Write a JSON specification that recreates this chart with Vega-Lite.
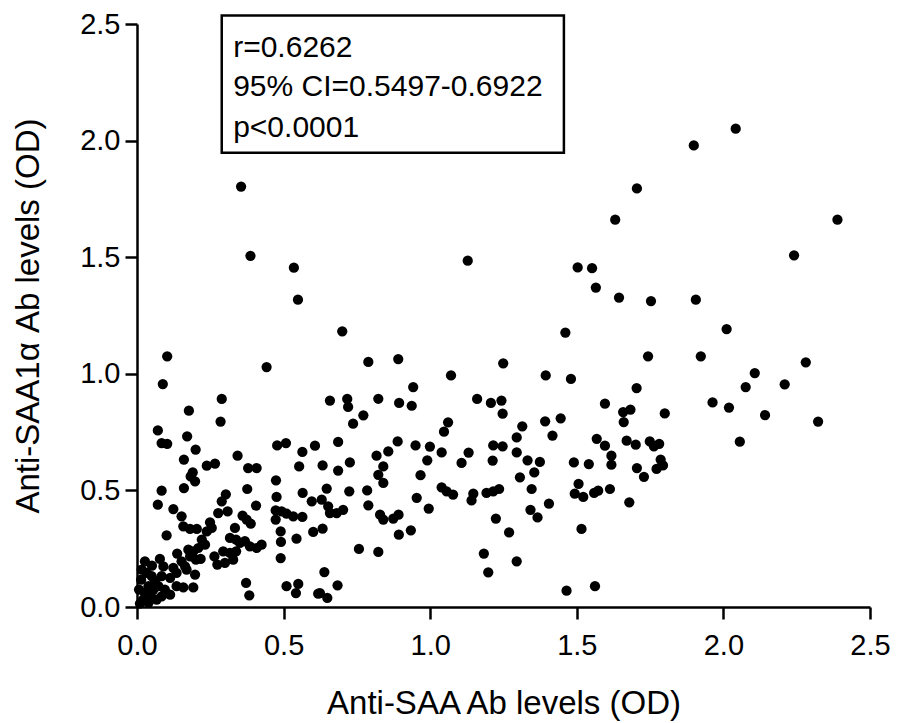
{
  "$schema": "https://vega.github.io/schema/vega-lite/v6.json",
  "autosize": {"type": "none"},
  "padding": {"left": 137, "top": 24, "right": 27, "bottom": 116},
  "width": 733,
  "height": 583,
  "background": "white",
  "config": {
    "view": {"stroke": null},
    "font": "Liberation Sans",
    "axis": {
      "grid": false,
      "domainColor": "black",
      "domainWidth": 2.5,
      "tickColor": "black",
      "tickWidth": 2.5,
      "tickSize": 12,
      "labelColor": "black",
      "labelFont": "Liberation Sans",
      "labelFontSize": 29,
      "titleFont": "Liberation Sans",
      "titleFontSize": 33,
      "titleFontWeight": "normal",
      "titleColor": "black"
    }
  },
  "datasets": {
    "points": [
      {"x":0.355,"y":1.803},{"x":1.705,"y":1.795},{"x":1.631,"y":1.661},{"x":0.387,"y":1.506},{"x":0.535,"y":1.455},
      {"x":1.128,"y":1.485},{"x":1.503,"y":1.456},{"x":1.552,"y":1.453},{"x":1.565,"y":1.370},{"x":0.549,"y":1.318},
      {"x":1.644,"y":1.327},{"x":1.753,"y":1.312},{"x":1.906,"y":1.318},{"x":0.700,"y":1.182},{"x":1.461,"y":1.177},
      {"x":1.899,"y":1.979},{"x":2.042,"y":2.051},{"x":2.389,"y":1.661},{"x":2.241,"y":1.508},{"x":2.011,"y":1.192},
      {"x":2.281,"y":1.049},{"x":2.107,"y":1.003},{"x":2.076,"y":0.943},{"x":2.209,"y":0.955},{"x":1.963,"y":0.877},
      {"x":2.019,"y":0.855},{"x":2.142,"y":0.823},{"x":2.323,"y":0.795},{"x":2.056,"y":0.709},{"x":1.923,"y":1.075},
      {"x":1.743,"y":1.075},{"x":1.394,"y":0.993},{"x":1.480,"y":0.978},{"x":1.704,"y":0.939},{"x":1.596,"y":0.872},
      {"x":1.658,"y":0.836},{"x":1.683,"y":0.846},{"x":1.660,"y":0.793},{"x":1.800,"y":0.830},{"x":1.314,"y":0.775},
      {"x":1.392,"y":0.796},{"x":1.445,"y":0.809},{"x":1.417,"y":0.735},{"x":1.568,"y":0.721},{"x":1.596,"y":0.692},
      {"x":1.670,"y":0.713},{"x":1.701,"y":0.696},{"x":1.749,"y":0.710},{"x":1.763,"y":0.689},{"x":1.781,"y":0.700},
      {"x":1.332,"y":0.629},{"x":1.374,"y":0.622},{"x":1.355,"y":0.577},{"x":1.490,"y":0.620},{"x":1.541,"y":0.613},
      {"x":1.618,"y":0.649},{"x":1.618,"y":0.610},{"x":1.705,"y":0.596},{"x":1.729,"y":0.558},{"x":1.786,"y":0.632},
      {"x":1.772,"y":0.592},{"x":1.794,"y":0.607},{"x":1.306,"y":0.556},{"x":1.346,"y":0.506},{"x":1.506,"y":0.528},
      {"x":1.493,"y":0.486},{"x":1.522,"y":0.472},{"x":1.559,"y":0.489},{"x":1.573,"y":0.499},{"x":1.613,"y":0.506},
      {"x":1.342,"y":0.417},{"x":1.366,"y":0.384},{"x":1.405,"y":0.443},{"x":1.679,"y":0.449},{"x":1.516,"y":0.335},
      {"x":1.465,"y":0.070},{"x":1.562,"y":0.089},
      {"x":0.789,"y":1.051},{"x":0.891,"y":1.063},{"x":1.071,"y":0.993},{"x":1.249,"y":1.045},{"x":0.942,"y":0.943},
      {"x":0.658,"y":0.885},{"x":0.717,"y":0.892},{"x":0.720,"y":0.858},{"x":0.823,"y":0.893},{"x":0.894,"y":0.875},
      {"x":0.937,"y":0.863},{"x":0.772,"y":0.822},{"x":0.737,"y":0.786},{"x":1.160,"y":0.892},{"x":1.207,"y":0.875},
      {"x":1.243,"y":0.885},{"x":1.247,"y":0.829},{"x":1.061,"y":0.792},{"x":1.047,"y":0.752},{"x":0.889,"y":0.710},
      {"x":0.686,"y":0.708},{"x":0.950,"y":0.693},{"x":0.999,"y":0.688},{"x":0.857,"y":0.667},{"x":0.817,"y":0.649},
      {"x":1.039,"y":0.663},{"x":1.131,"y":0.662},{"x":1.107,"y":0.618},{"x":1.215,"y":0.693},{"x":1.247,"y":0.689},
      {"x":1.213,"y":0.628},{"x":1.295,"y":0.727},{"x":1.295,"y":0.663},{"x":0.633,"y":0.607},{"x":0.726,"y":0.620},
      {"x":0.686,"y":0.585},{"x":0.990,"y":0.629},{"x":0.840,"y":0.603},{"x":0.823,"y":0.567},{"x":0.840,"y":0.532},
      {"x":0.967,"y":0.565},{"x":0.647,"y":0.508},{"x":0.724,"y":0.496},{"x":0.785,"y":0.500},{"x":1.039,"y":0.513},
      {"x":1.056,"y":0.496},{"x":1.078,"y":0.482},{"x":1.147,"y":0.486},{"x":1.141,"y":0.457},{"x":1.192,"y":0.489},
      {"x":1.215,"y":0.496},{"x":1.235,"y":0.506},{"x":0.954,"y":0.468},{"x":0.789,"y":0.436},{"x":0.995,"y":0.422},
      {"x":0.630,"y":0.460},{"x":0.652,"y":0.432},{"x":0.681,"y":0.403},{"x":0.703,"y":0.417},{"x":0.658,"y":0.403},
      {"x":0.829,"y":0.396},{"x":0.840,"y":0.375},{"x":0.874,"y":0.379},{"x":0.892,"y":0.396},{"x":0.893,"y":0.310},
      {"x":0.934,"y":0.329},{"x":0.633,"y":0.336},{"x":1.224,"y":0.379},{"x":1.269,"y":0.320},{"x":0.757,"y":0.249},
      {"x":0.823,"y":0.236},{"x":1.183,"y":0.229},{"x":1.198,"y":0.149},{"x":1.295,"y":0.196},{"x":0.639,"y":0.150},
      {"x":0.684,"y":0.093},{"x":0.624,"y":0.060},{"x":0.649,"y":0.039},
      {"x":0.103,"y":1.075},{"x":0.088,"y":0.956},{"x":0.289,"y":0.892},{"x":0.442,"y":1.029},{"x":0.177,"y":0.842},
      {"x":0.285,"y":0.795},{"x":0.071,"y":0.757},{"x":0.084,"y":0.703},{"x":0.103,"y":0.700},{"x":0.171,"y":0.732},
      {"x":0.200,"y":0.675},{"x":0.160,"y":0.632},{"x":0.238,"y":0.606},{"x":0.266,"y":0.615},{"x":0.343,"y":0.649},
      {"x":0.190,"y":0.577},{"x":0.183,"y":0.560},{"x":0.198,"y":0.539},{"x":0.160,"y":0.510},{"x":0.084,"y":0.499},
      {"x":0.379,"y":0.596},{"x":0.408,"y":0.596},{"x":0.478,"y":0.693},{"x":0.508,"y":0.703},{"x":0.564,"y":0.665},
      {"x":0.607,"y":0.692},{"x":0.553,"y":0.603},{"x":0.474,"y":0.543},{"x":0.376,"y":0.506},{"x":0.476,"y":0.472},
      {"x":0.565,"y":0.489},{"x":0.071,"y":0.439},{"x":0.124,"y":0.420},{"x":0.152,"y":0.389},{"x":0.303,"y":0.483},
      {"x":0.289,"y":0.453},{"x":0.277,"y":0.403},{"x":0.309,"y":0.410},{"x":0.406,"y":0.435},{"x":0.360,"y":0.392},
      {"x":0.374,"y":0.375},{"x":0.388,"y":0.357},{"x":0.249,"y":0.363},{"x":0.255,"y":0.339},{"x":0.238,"y":0.324},
      {"x":0.158,"y":0.346},{"x":0.181,"y":0.335},{"x":0.204,"y":0.335},{"x":0.101,"y":0.307},{"x":0.473,"y":0.414},
      {"x":0.493,"y":0.410},{"x":0.510,"y":0.400},{"x":0.533,"y":0.389},{"x":0.564,"y":0.386},{"x":0.473,"y":0.375},
      {"x":0.490,"y":0.324},{"x":0.491,"y":0.279},{"x":0.544,"y":0.293},{"x":0.596,"y":0.453},{"x":0.601,"y":0.322},
      {"x":0.490,"y":0.210},{"x":0.334,"y":0.339},{"x":0.317,"y":0.296},{"x":0.338,"y":0.289},{"x":0.351,"y":0.275},
      {"x":0.368,"y":0.282},{"x":0.385,"y":0.260},{"x":0.408,"y":0.253},{"x":0.425,"y":0.267},{"x":0.294,"y":0.239},
      {"x":0.317,"y":0.232},{"x":0.338,"y":0.239},{"x":0.264,"y":0.217},{"x":0.274,"y":0.182},{"x":0.300,"y":0.189},
      {"x":0.328,"y":0.203},{"x":0.221,"y":0.289},{"x":0.232,"y":0.267},{"x":0.209,"y":0.253},{"x":0.192,"y":0.239},
      {"x":0.175,"y":0.246},{"x":0.181,"y":0.217},{"x":0.201,"y":0.203},{"x":0.217,"y":0.206},{"x":0.137,"y":0.229},
      {"x":0.152,"y":0.196},{"x":0.164,"y":0.174},{"x":0.198,"y":0.139},{"x":0.078,"y":0.206},{"x":0.027,"y":0.196},
      {"x":0.090,"y":0.174},{"x":0.124,"y":0.168},{"x":0.084,"y":0.132},{"x":0.113,"y":0.125},{"x":0.158,"y":0.084},
      {"x":0.192,"y":0.084},{"x":0.372,"y":0.103},{"x":0.383,"y":0.050},{"x":0.510,"y":0.089},{"x":0.550,"y":0.099},
      {"x":0.542,"y":0.060},{"x":0.618,"y":0.057},
      {"x":0.016,"y":0.160},{"x":0.033,"y":0.146},{"x":0.050,"y":0.132},{"x":0.061,"y":0.110},{"x":0.039,"y":0.089},
      {"x":0.056,"y":0.075},{"x":0.073,"y":0.089},{"x":0.027,"y":0.060},{"x":0.021,"y":0.032},{"x":0.039,"y":0.018},
      {"x":0.084,"y":0.046},{"x":0.113,"y":0.053},{"x":0.095,"y":0.075},{"x":0.135,"y":0.089},{"x":0.067,"y":0.032},
      {"x":0.010,"y":0.015},{"x":0.169,"y":0.160},{"x":0.135,"y":0.146},{"x":0.051,"y":0.177},{"x":0.014,"y":0.117},
      {"x":0.007,"y":0.075},{"x":0.048,"y":0.045}
    ],
    "stats": [
      {"label": "r=0.6262", "x": 0.328, "y": 2.359},
      {"label": "95% CI=0.5497-0.6922", "x": 0.328, "y": 2.192},
      {"label": "p<0.0001", "x": 0.328, "y": 2.016}
    ],
    "box": [
      {"x1": 0.289, "x2": 1.456, "y1": 1.948, "y2": 2.536}
    ]
  },
  "layer": [
    {
      "data": {"name": "points"},
      "mark": {"type": "circle", "size": 105, "color": "black", "opacity": 1},
      "encoding": {
        "x": {
          "field": "x", "type": "quantitative",
          "scale": {"domain": [0, 2.5], "nice": false, "zero": false},
          "axis": {
            "values": [0, 0.5, 1.0, 1.5, 2.0, 2.5], "format": ".1f",
            "title": "Anti-SAA Ab levels (OD)", "labelPadding": 12, "titlePadding": 27,
            "labelFlush": false
          }
        },
        "y": {
          "field": "y", "type": "quantitative",
          "scale": {"domain": [0, 2.5], "nice": false, "zero": false},
          "axis": {
            "values": [0, 0.5, 1.0, 1.5, 2.0, 2.5], "format": ".1f",
            "title": "Anti-SAA1α Ab levels (OD)", "labelPadding": 5, "titlePadding": 34,
            "labelFlush": false
          }
        }
      }
    },
    {
      "data": {"name": "box"},
      "mark": {"type": "rect", "fill": null, "fillOpacity": 0, "stroke": "black", "strokeWidth": 2.5, "clip": false},
      "encoding": {
        "x": {"field": "x1", "type": "quantitative"},
        "x2": {"field": "x2"},
        "y": {"field": "y1", "type": "quantitative"},
        "y2": {"field": "y2"}
      }
    },
    {
      "data": {"name": "stats"},
      "mark": {"type": "text", "align": "left", "baseline": "alphabetic", "fontSize": 30, "font": "Liberation Sans", "color": "black", "clip": false},
      "encoding": {
        "x": {"field": "x", "type": "quantitative"},
        "y": {"field": "y", "type": "quantitative"},
        "text": {"field": "label"}
      }
    }
  ]
}
